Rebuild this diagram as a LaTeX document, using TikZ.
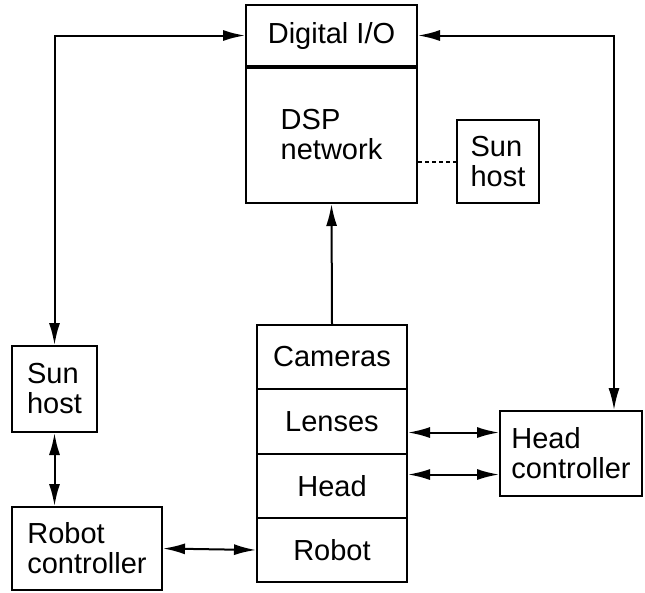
\documentclass[tikz,border=0pt]{standalone}
\usepackage{fontspec}
\setmainfont{Liberation Sans}
\usetikzlibrary{arrows.meta}

\tikzset{
  blk/.style={draw, align=left, inner sep=0pt,
    font=\fontsize{29}{30}\selectfont},
  dbl/.style={<->},
  sgl/.style={->},
}

\begin{document}
\begin{tikzpicture}[x=1pt,y=1pt,yscale=-1,xscale=1,line width=2pt,
  >={Latex[length=22pt,width=11pt]}]
\useasboundingbox (0,0) rectangle (645,592);

% Boxes
\node [blk, minimum width=171pt, minimum height=61pt] (dio) at (331.5,35.5) {Digital I/O};
\node [blk, minimum width=171pt, minimum height=137pt] (dsp) at (331.5,134.5) {DSP\\network};
\node [blk, minimum width=82pt, minimum height=83pt] (sunR) at (498,161.5) {Sun\\host};
\node [blk, minimum width=85pt, minimum height=86pt] (sunL) at (54.5,389) {Sun\\host};
\node [blk, minimum width=150pt, minimum height=83pt] (rc) at (87,548.5) {Robot\\controller};
\node [blk, minimum width=142pt, minimum height=85pt] (hc) at (571,453.5) {Head\\controller};

% Stack
\node [blk, minimum width=150pt, minimum height=64pt] (cam) at (332,357) {Cameras};
\node [blk, minimum width=150pt, minimum height=65pt] (lens) at (332,421.5) {Lenses};
\node [blk, minimum width=150pt, minimum height=64pt] (head) at (332,486) {Head};
\node [blk, minimum width=150pt, minimum height=64pt] (robot) at (332,550) {Robot};

% ports on the head controller
\coordinate (hcTop) at ([xshift=43pt]hc.north);
\coordinate (hcUp) at ([yshift=21pt]hc.west);
\coordinate (hcDn) at ([yshift=-21pt]hc.west);

% thick divider
\draw [line width=3.6pt] (dio.south west) -- (dio.south east);

% Connectors
\draw [dbl] (sunL.north) |- (dio.west);
\draw [dbl] (dio.east) -| (hcTop);
\draw [sgl] (cam.north) -- (dsp.south);
\draw [dash pattern=on 4pt off 3pt] (sunR.west -| dsp.east) -- (sunR.west);
\draw [dbl] (sunL.south) -- (sunL.south |- rc.north);
\draw [dbl] (rc.east) -- (robot.west);
\draw [dbl] (lens.east |- hcUp) -- (hcUp);
\draw [dbl] (head.east |- hcDn) -- (hcDn);

\end{tikzpicture}
\end{document}
